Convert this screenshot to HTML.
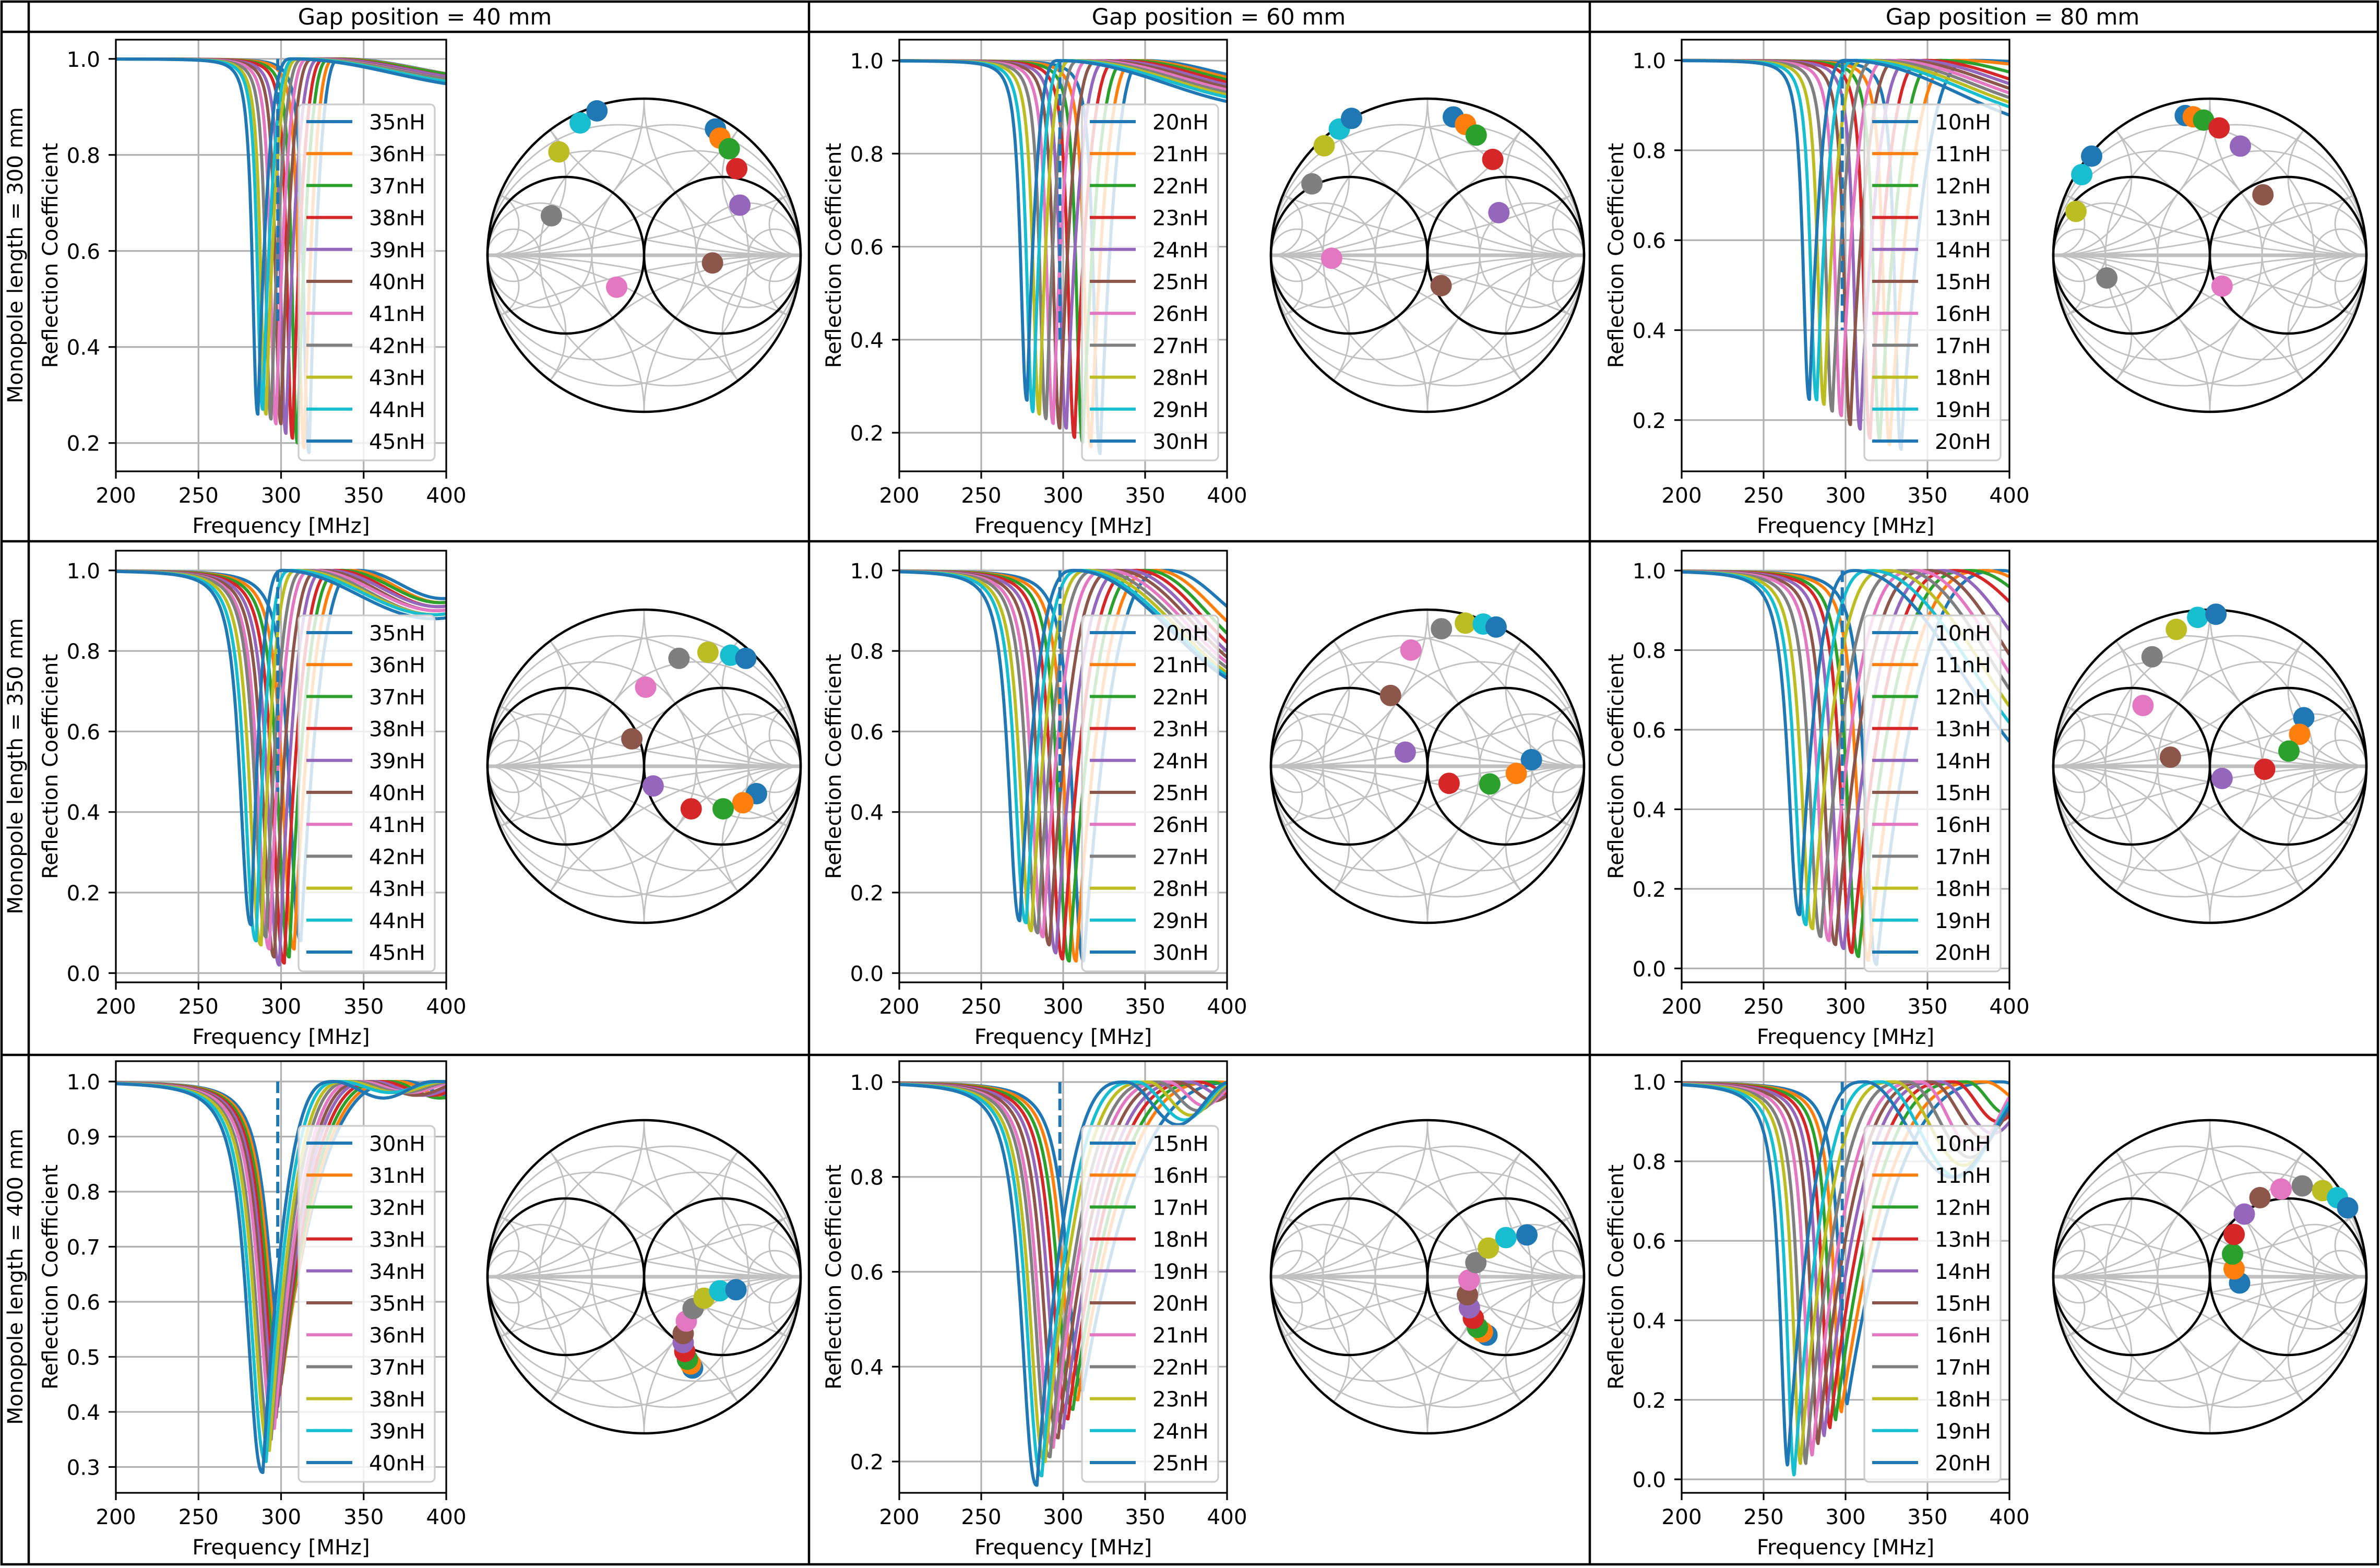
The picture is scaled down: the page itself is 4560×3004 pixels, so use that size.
<!DOCTYPE html>
<html><head><meta charset="utf-8">
<style>
html,body{margin:0;padding:0;background:#fff;width:4560px;height:3004px;overflow:hidden;}
svg{display:block;font-family:"DejaVu Sans","Liberation Sans",sans-serif;}
</style></head>
<body>
<svg id="fig" width="4560" height="3004" viewBox="0 0 4560 3004" xmlns="http://www.w3.org/2000/svg" overflow="hidden">
<rect x="0" y="0" width="4560" height="3004" fill="#fff"/>
</svg>
<script>
// ---------- data (panel order: row-major, 3 rows x 3 cols) ----------
const gapPositions = [40, 60, 80];
const monopoleLengths = [300, 350, 400];
const nhStart = [35, 20, 10, 35, 20, 10, 30, 15, 10];
const dipFreq = [
 [317,314,310,307,303,300,297,294,291,289,286],
 [322.6,317,312,307,302,298,294,289.7,285.6,281.7,278],
 [334,327,321,315,309,303,297.5,292,287,282.5,278],
 [312,308,305,302,299,296,293,291,288,285,282],
 [312.6,308,303.8,299.8,295.7,291.7,287.8,284.6,280.7,277.5,273.6],
 [319,314,308,304,299,294,290,285,280,276,272],
 [302,301,300,299,298,297,296,294,293,291,289],
 [312,309,306,303,300,297,294,292,289,287,284],
 [301,297.5,294,290.5,287,283.3,279.7,275.8,272.5,268.7,264.7]
];
const dipMin = [
 [.18,.19,.20,.21,.22,.24,.24,.25,.26,.27,.26],
 [.155,.17,.18,.19,.21,.21,.22,.23,.24,.245,.27],
 [.135,.145,.155,.16,.18,.19,.21,.22,.235,.245,.246],
 [.08,.06,.04,.025,.02,.04,.06,.09,.07,.08,.12],
 [.03,.03,.03,.035,.05,.07,.09,.10,.105,.125,.13],
 [.01,.02,.03,.04,.05,.06,.07,.08,.10,.11,.135],
 [.50,.47,.45,.43,.41,.39,.37,.35,.33,.31,.29],
 [.35,.33,.31,.29,.27,.25,.23,.21,.20,.17,.15],
 [.19,.17,.15,.13,.11,.09,.06,.04,.04,.01,.035]
];
const peakFreq = [
 [336,333,330,327,324,320,317,314,311,309,306],
 [350,345,340,334,328,322,316,310,305,301,297],
 [378,368,358,349,341,333,326,319,312,306,300],
 [347,342,337,333,328,324,319,315,310,306,301],
 [364,357,351,345,339,333,327,321,316,311,307],
 [396,386,377,368,360,352,344,336,326,316,306],
 [376,371,366,361,356,352,348,344,340,336,332],
 [410,396,390,383,377,370,364,358,352,345,338],
 [395,385,374,366,358,352,346,338,330,322,312]
];
const troughFreq = [
 [430,430,430,430,430,430,430,430,430,430,430],
 [430,430,430,430,430,430,430,430,430,430,430],
 [440,440,440,440,440,440,440,440,440,440,440],
 [398,397,396,395,395,394,394,393,393,392,392],
 [425,425,425,425,425,425,425,425,425,425,425],
 [440,440,440,440,440,440,440,440,440,440,440],
 [406,401,396,391,386,382,378,374,370,366,362],
 [440,415,410,405,398,392,386,382,378,374,370],
 [425,412,398,393,390,384,378,376,372,368,365]
];
const troughVal = [
 [.96,.96,.96,.955,.955,.95,.95,.95,.945,.945,.94],
 [.957,.95,.945,.94,.935,.93,.925,.92,.915,.91,.90],
 [.99,.98,.95,.93,.92,.91,.90,.89,.88,.87,.85],
 [.93,.92,.92,.91,.91,.90,.90,.89,.89,.89,.88],
 [.86,.82,.79,.77,.75,.74,.73,.72,.71,.705,.70],
 [.90,.90,.86,.81,.70,.63,.59,.56,.53,.50,.46],
 [.97,.97,.97,.975,.975,.975,.98,.98,.98,.98,.97],
 [.88,.98,.98,.97,.97,.96,.95,.94,.93,.92,.91],
 [.95,.94,.92,.90,.87,.86,.83,.81,.79,.76,.76]
];
const leftWidth = [3.9,4.6,4.6,8,8,8,11.2,11,5.7];
const leftPow = [2.5,2.5,2.5,2.5,2.5,2.5,2.5,2.5,2];
const yLimLow = [0.141,0.117,0.086,-0.023,-0.023,-0.035,0.253,0.134,-0.034];
const yLimHigh = [1.04,1.045,1.046,1.049,1.049,1.05,1.037,1.044,1.052];
const yTickLabels = [
 ["0.2","0.4","0.6","0.8","1.0"],["0.2","0.4","0.6","0.8","1.0"],["0.2","0.4","0.6","0.8","1.0"],
 ["0.0","0.2","0.4","0.6","0.8","1.0"],["0.0","0.2","0.4","0.6","0.8","1.0"],["0.0","0.2","0.4","0.6","0.8","1.0"],
 ["0.3","0.4","0.5","0.6","0.7","0.8","0.9","1.0"],["0.2","0.4","0.6","0.8","1.0"],["0.0","0.2","0.4","0.6","0.8","1.0"]
];
const xTickLabels = ["200","250","300","350","400"];
const dashBottom = [0.45,0.4,0.4,0.45,0.45,0.41,0.68,0.80,0.42];
const markerFreq = 298;
const smithRe = [
 [.456,.485,.544,.592,.612,.437,-.175,-.592,-.544,-.408,-.301],
 [.165,.243,.311,.417,.456,.087,-.612,-.738,-.660,-.563,-.485],
 [-.157,-.106,-.040,.059,.195,.339,.078,-.658,-.855,-.818,-.755],
 [.718,.631,.505,.301,.058,-.078,.010,.223,.408,.553,.650],
 [.664,.567,.398,.138,-.142,-.236,-.106,.089,.242,.356,.438],
 [.600,.573,.505,.350,.078,-.252,-.427,-.369,-.214,-.078,.039],
 [.310,.297,.277,.260,.250,.250,.270,.313,.383,.483,.587],
 [.380,.351,.319,.293,.268,.255,.265,.309,.389,.501,.635],
 [.190,.155,.145,.155,.220,.320,.455,.590,.720,.815,.880]
];
const smithIm = [
 [.806,.748,.680,.553,.320,-.049,-.204,.252,.660,.845,.922],
 [.883,.835,.767,.612,.272,-.194,-.019,.456,.699,.806,.874],
 [.892,.884,.863,.813,.697,.386,-.197,-.145,.280,.515,.633],
 [-.175,-.233,-.272,-.272,-.126,.175,.505,.689,.728,.709,.689],
 [.042,-.046,-.113,-.109,.090,.452,.742,.878,.914,.908,.889],
 [.310,.204,.097,-.019,-.078,.058,.388,.699,.874,.951,.971],
 [-.583,-.557,-.527,-.477,-.420,-.363,-.283,-.203,-.137,-.090,-.083],
 [-.373,-.352,-.323,-.265,-.198,-.115,-.021,.090,.183,.250,.267],
 [-.040,.050,.145,.270,.400,.505,.560,.580,.550,.505,.440]
];
const smithGridVals = [0.2, 0.5, 2, 5];
const smithArcVals = [0.2, 0.5, 1, 2, 5];

// ---------- layout ----------
const colors = ["#1f77b4","#ff7f0e","#2ca02c","#d62728","#9467bd","#8c564b","#e377c2","#7f7f7f","#bcbd22","#17becf","#1f77b4"];
const axLeft = [222, 1723, 3222];
const axWidth = [633, 628, 628];
const axTop = [76, 1055, 2033];
const axHeight = 827;
const headerX = [814, 2335, 3856];
const NS = "http://www.w3.org/2000/svg";
const svg = document.getElementById("fig");
function mk(tag, attrs, parent){
  const e = document.createElementNS(NS, tag);
  for (const k in attrs) e.setAttribute(k, attrs[k]);
  (parent||svg).appendChild(e);
  return e;
}
function txt(s, attrs, parent){ const e = mk("text", attrs, parent); e.textContent = s; return e; }

const defs = mk("defs", {});

function curveVal(f, p, i){
  const f0 = dipFreq[p][i], m = dipMin[p][i], fr = peakFreq[p][i], ft = troughFreq[p][i], tv = troughVal[p][i];
  if (f <= f0) return 1 - (1-m) / (1 + Math.pow((f0-f)/leftWidth[p], leftPow[p]));
  if (f < fr) { const t = (f-f0)/(fr-f0); return 1 - (1-m)*Math.pow(1-t, 3); }
  if (f < ft) { const s = Math.sin(Math.PI/2*(f-fr)/(ft-fr)); return 1 - (1-tv)*s*s; }
  const u = Math.min(1, (f-ft)/(ft-fr)); const s = Math.sin(Math.PI/2*u); return tv + (1-tv)*s*s;
}

function drawPanel(row, col){
  const p = row*3 + col;
  const L = axLeft[col], W = axWidth[col], T = axTop[row], H = axHeight, B = T + H;
  const xs = f => L + (f-200)/200*W;
  const ys = v => B - (v - yLimLow[p])/(yLimHigh[p]-yLimLow[p])*H;
  const g = mk("g", {});
  
  
  const cp = mk("clipPath", {id:"clip"+p}, defs);
  mk("rect", {x:L, y:T, width:W, height:H}, cp);
  xTickLabels.forEach(lbl => {
    const x = xs(parseFloat(lbl));
    const gl = mk("line", {x1:x, x2:x, y1:T, y2:B, stroke:"#b0b0b0", "stroke-width":3.2}, g);
    
    
  });
  yTickLabels[p].forEach(lbl => {
    const y = ys(parseFloat(lbl));
    const gl = mk("line", {x1:L, x2:L+W, y1:y, y2:y, stroke:"#b0b0b0", "stroke-width":3.2}, g);
    
    
  });
  const cg = mk("g", {"clip-path":"url(#clip"+p+")"}, g);
  for (let i = 0; i < 11; i++){
    let d = "";
    for (let k = 0; k <= 800; k++){
      const f = 200 + k*0.25;
      const v = Math.max(yLimLow[p], Math.min(yLimHigh[p], curveVal(f,p,i)));
      d += (k ? "L" : "M") + xs(f).toFixed(1) + "," + ys(v).toFixed(1);
    }
    const path = mk("path", {d:d, fill:"none", stroke:colors[i], "stroke-width":6, "stroke-linejoin":"round"}, cg);
    
    
  }
  const dl = mk("line", {x1:xs(markerFreq), x2:xs(markerFreq), y1:ys(1.0), y2:ys(dashBottom[p]), stroke:"#1f77b4", "stroke-width":6, "stroke-dasharray":"22 10"}, cg);
  
  
  const sp = mk("rect", {x:L, y:T, width:W, height:H, fill:"none", stroke:"#000", "stroke-width":3.2}, g);
  
  
  xTickLabels.forEach(lbl => {
    const x = xs(parseFloat(lbl));
    mk("line", {x1:x, x2:x, y1:B, y2:B+14, stroke:"#000", "stroke-width":3.2}, g);
    const t = txt(lbl, {x:x, y:B+60, "font-size":40.5, "text-anchor":"middle"}, g);
    
    
  });
  yTickLabels[p].forEach(lbl => {
    const y = ys(parseFloat(lbl));
    mk("line", {x1:L-14, x2:L, y1:y, y2:y, stroke:"#000", "stroke-width":3.2}, g);
    const t = txt(lbl, {x:L-30, y:y+15, "font-size":40.5, "text-anchor":"end"}, g);
    
    
  });
  const xl = txt("Frequency [MHz]", {x:L+W/2, y:B+118, "font-size":40.5, "text-anchor":"middle"}, g);
  
  
  const yl = txt("Reflection Coefficient", {x:0, y:0, "font-size":40.5, "text-anchor":"middle", "dominant-baseline":"central", transform:"translate("+(L-126)+","+(T+H/2)+") rotate(-90)"}, g);
  
  
  const lg = mk("g", {}, g);
  
  
  mk("rect", {x:L+350, y:T+124, width:261, height:682, rx:9, fill:"#fff", "fill-opacity":0.8, stroke:"#cccccc", "stroke-width":3.2}, lg);
  for (let i = 0; i < 11; i++){
    const y = T + 157 + i*61.2;
    const e = mk("g", {}, lg);
    
    
    mk("line", {x1:L+365, x2:L+453, y1:y, y2:y, stroke:colors[i], "stroke-width":6}, e);
    txt((nhStart[p]+i) + "nH", {x:L+485, y:y+15, "font-size":40.5}, e);
  }
  // smith chart
  const cx = L + 1012, cy = T + 413, R = 300;
  const sg = mk("g", {}, svg);
  
  
  const gg = mk("g", {fill:"none", stroke:"#c0c0c0", "stroke-width":2.8}, sg);
  smithGridVals.forEach(v => {
    const c1 = mk("circle", {cx:cx + R*v/(1+v), cy:cy, r:R/(1+v)}, gg);
    
    
    const c2 = mk("circle", {cx:cx - R*v/(1+v), cy:cy, r:R/(1+v)}, gg);
    
    
  });
  smithArcVals.forEach(v => {
    const px = (v*v-1)/(v*v+1), py = 2*v/(v*v+1), rr = (R/v).toFixed(2);
    [[1,1],[-1,0]].forEach(([sgn, sw]) => {
      const d = "M"+(cx+R)+","+cy+" A"+rr+","+rr+" 0 0 "+sw+" "+(cx+R*px).toFixed(2)+","+(cy-sgn*R*py).toFixed(2);
      const a = mk("path", {d:d}, gg);
      
      
    });
    [[1,0],[-1,1]].forEach(([sgn, sw]) => {
      const d = "M"+(cx-R)+","+cy+" A"+rr+","+rr+" 0 0 "+sw+" "+(cx-R*px).toFixed(2)+","+(cy-sgn*R*py).toFixed(2);
      const a = mk("path", {d:d}, gg);
      
      
    });
  });
  const ax = mk("line", {x1:cx-R, x2:cx+R, y1:cy, y2:cy, stroke:"#c0c0c0", "stroke-width":7}, sg);
  
  
  const bg = mk("g", {fill:"none", stroke:"#000", "stroke-width":4.5}, sg);
  const k1 = mk("circle", {cx:cx + R/2, cy:cy, r:R/2}, bg);
  
  
  const k2 = mk("circle", {cx:cx - R/2, cy:cy, r:R/2}, bg);
  
  
  const k3 = mk("circle", {cx:cx, cy:cy, r:R}, bg);
  
  
  for (let i = 0; i < 11; i++){
    const pt = mk("circle", {cx:cx + R*smithRe[p][i], cy:cy - R*smithIm[p][i], r:20.5, fill:colors[i]}, sg);
    
    
  }
}

for (let r = 0; r < 3; r++) for (let c = 0; c < 3; c++) drawPanel(r, c);

const frame = mk("g", {stroke:"#000", "stroke-width":4.5, fill:"none"});


mk("rect", {x:3, y:3, width:4553, height:2994}, frame);
[55, 1550, 3046].forEach(x => mk("line", {x1:x, x2:x, y1:3, y2:2997}, frame));
[61, 1037, 2021].forEach(y => mk("line", {x1:3, x2:4556, y1:y, y2:y}, frame));
gapPositions.forEach((gp, c) => {
  const t = txt("Gap position = " + gp + " mm", {x:headerX[c], y:47, "font-size":43, "text-anchor":"middle"});
  
  
});
monopoleLengths.forEach((ml, r) => {
  const t = txt("Monopole length = " + ml + " mm", {x:0, y:0, "font-size":40.5, "text-anchor":"middle", "dominant-baseline":"central", transform:"translate(29,"+(axTop[r]+413)+") rotate(-90)"});
  
  
});
</script>
</body></html>
